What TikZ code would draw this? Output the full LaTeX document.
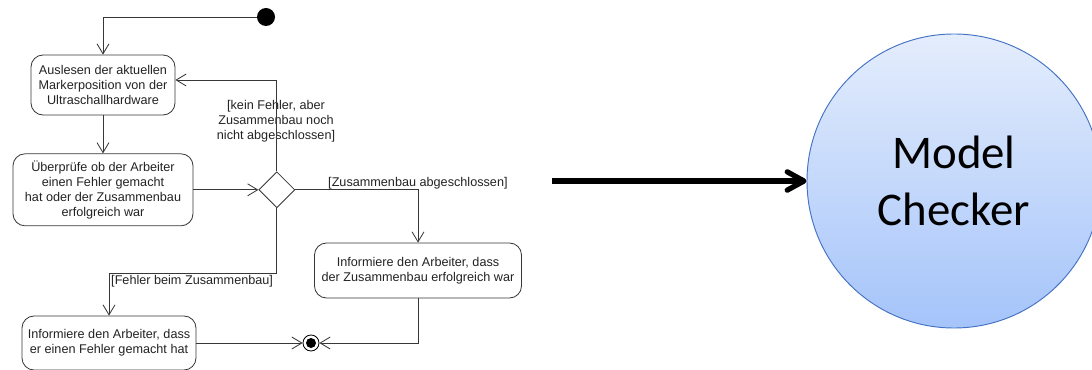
\documentclass[tikz,border=0pt]{standalone}
\usepackage{fontspec}
\setmainfont{Liberation Sans}
\newfontfamily\calibrifont{Carlito}
\usepackage{tikz}
\usetikzlibrary{arrows.meta,positioning,shapes.geometric}
\definecolor{umlline}{RGB}{55,55,55}
\definecolor{umltext}{RGB}{35,35,35}
\definecolor{mcborder}{RGB}{68,114,196}
\definecolor{mctop}{RGB}{228,237,252}
\definecolor{mcbottom}{RGB}{165,196,250}
\tikzset{
  actbox/.style={draw=umlline, rounded corners=3.6mm, line width=0.7pt,
    align=center, fill=white, text=umltext, inner sep=0pt,
    font=\fontsize{10.8}{12.8}\selectfont},
  guardlabel/.style={text=umltext, align=center, inner sep=0pt,
    font=\fontsize{10.8}{12.8}\selectfont},
  decision/.style={diamond, draw=umlline, line width=0.7pt, fill=white,
    minimum size=10.8mm, inner sep=0pt},
  startnode/.style={circle, fill=black, minimum size=5.4mm, inner sep=0pt},
  endnode/.style={circle, draw=black, line width=0.7pt, fill=white,
    minimum size=4.8mm, inner sep=0pt},
  flow/.style={-{Straight Barb[length=3mm,width=3.6mm]}, draw=umlline, line width=0.7pt},
  bigflow/.style={-{Straight Barb[length=5mm,width=5.5mm,round]}, line width=4.5pt},
  checker/.style={circle, draw=mcborder, line width=0.8pt, top color=mctop,
    bottom color=mcbottom, minimum size=88.2mm, align=center,
    font=\calibrifont\fontsize{40}{49}\selectfont}
}
\begin{document}
\begin{tikzpicture}[x=0.3mm, y=-0.3mm]
\clip (0,0) rectangle (1092,370);
\node[startnode] (start) at (266,17) {};
\node[actbox, minimum width=43.2mm, minimum height=18mm] (read) at (103,85)
  {Auslesen der aktuellen\\Markerposition von der\\Ultraschallhardware};
\node[actbox, minimum width=54mm, minimum height=21.6mm, below=11.4mm of read] (check)
  {Überprüfe ob der Arbeiter\\einen Fehler gemacht\\hat oder der Zusammenbau\\erfolgreich war};
\node[decision, right=19.5mm of check] (decide) {};
\node[actbox, minimum width=62.1mm, minimum height=16.5mm] (okinfo) at (418,270.5)
  {Informiere den Arbeiter, dass\\der Zusammenbau erfolgreich war};
\node[actbox, minimum width=52.2mm, minimum height=16.2mm] (errinfo) at (109,343)
  {Informiere den Arbeiter, dass\\er einen Fehler gemacht hat};
\node[endnode] (finish) at (311,343) {};
\fill[black] (finish.center) circle (1.5mm);

\node[guardlabel] (loopguard) at (276,121)
  {[kein Fehler, aber\\Zusammenbau noch\\nicht abgeschlossen]};
\node[guardlabel, anchor=west] (okguard) at (328,183) {[Zusammenbau abgeschlossen]};
\node[guardlabel, anchor=west] (errguard) at (111,281) {[Fehler beim Zusammenbau]};

\draw[flow] (start) -| (read);
\draw[flow] (read) -- (check);
\draw[flow] (check) -- (decide);
\draw[flow] (decide) |- ([yshift=1.5mm]read.east);
\draw[flow] (decide) -| (okinfo);
\draw[flow] (decide.south) -- ++(0,65) -| (errinfo);
\draw[flow] (errinfo) -- (finish);
\draw[flow] (okinfo) |- (finish);

\node[checker] (mc) at (954,181) {Model\\Checker};
\coordinate (src) at (552,181);
\draw[bigflow] (src) -- (mc);
\end{tikzpicture}
\end{document}
